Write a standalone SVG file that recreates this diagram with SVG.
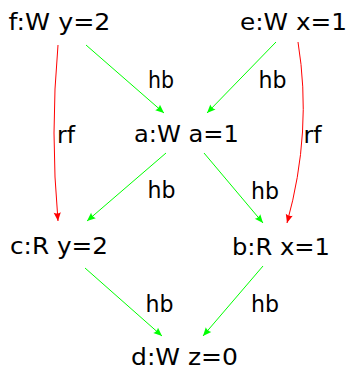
<svg xmlns="http://www.w3.org/2000/svg" width="349" height="370" viewBox="0 0 349 370">
<style>
text{font-family:"DejaVu Sans","Liberation Sans",sans-serif;font-size:23px;fill:#000;}
.node text{text-anchor:middle;}
.lbl{text-anchor:middle;}
.hb{fill:none;stroke:#00ff00;stroke-width:1;marker-end:url(#ag);}
.rf{fill:none;stroke:#ff0000;stroke-width:1;marker-end:url(#ar);}
</style>
<defs>
<marker id="ag" markerUnits="userSpaceOnUse" viewBox="-9 -5 10 10" refX="0" refY="0" markerWidth="10" markerHeight="10" orient="auto">
<path d="M0,0 L-8.5,-3.6 Q-6.5,0 -8.5,3.6 Z" fill="#00ff00"/>
</marker>
<marker id="ar" markerUnits="userSpaceOnUse" viewBox="-9 -5 10 10" refX="0" refY="0" markerWidth="10" markerHeight="10" orient="auto">
<path d="M0,0 L-8.5,-3.6 Q-6.5,0 -8.5,3.6 Z" fill="#ff0000"/>
</marker>
</defs>
<g id="connectors">
<path class="hb" d="M86,45 L164,113"/>
<path class="hb" d="M276,42 L207,113"/>
<path class="hb" d="M166,153 L87,221"/>
<path class="hb" d="M204,153 L263,223"/>
<path class="hb" d="M85,268 L162,336"/>
<path class="hb" d="M263,266 L203,336"/>
<path class="rf" d="M58,45 Q50,133 58,221"/>
<path class="rf" d="M298,42 Q312.5,131.5 287,223"/>
<text class="lbl" x="161" y="88" textLength="26" lengthAdjust="spacingAndGlyphs">hb</text>
<text class="lbl" x="272.5" y="88" textLength="28" lengthAdjust="spacingAndGlyphs">hb</text>
<text class="lbl" x="66" y="143" textLength="18" lengthAdjust="spacingAndGlyphs">rf</text>
<text class="lbl" x="312.5" y="143" textLength="18" lengthAdjust="spacingAndGlyphs">rf</text>
<text class="lbl" x="161.5" y="198" textLength="28" lengthAdjust="spacingAndGlyphs">hb</text>
<text class="lbl" x="265" y="199" textLength="28" lengthAdjust="spacingAndGlyphs">hb</text>
<text class="lbl" x="159.5" y="311.5" textLength="28" lengthAdjust="spacingAndGlyphs">hb</text>
<text class="lbl" x="265" y="311.5" textLength="28" lengthAdjust="spacingAndGlyphs">hb</text>
</g>
<g id="f" class="node"><text x="59.5" y="30" textLength="102" lengthAdjust="spacingAndGlyphs">f:W y=2</text></g>
<g id="e" class="node"><text x="293.5" y="30" textLength="107" lengthAdjust="spacingAndGlyphs">e:W x=1</text></g>
<g id="a" class="node"><text x="186.5" y="142" textLength="105" lengthAdjust="spacingAndGlyphs">a:W a=1</text></g>
<g id="c" class="node"><text x="59" y="254" textLength="98" lengthAdjust="spacingAndGlyphs">c:R y=2</text></g>
<g id="b" class="node"><text x="281" y="255" textLength="98" lengthAdjust="spacingAndGlyphs">b:R x=1</text></g>
<g id="d" class="node"><text x="184.5" y="365" textLength="107" lengthAdjust="spacingAndGlyphs">d:W z=0</text></g>
</svg>
